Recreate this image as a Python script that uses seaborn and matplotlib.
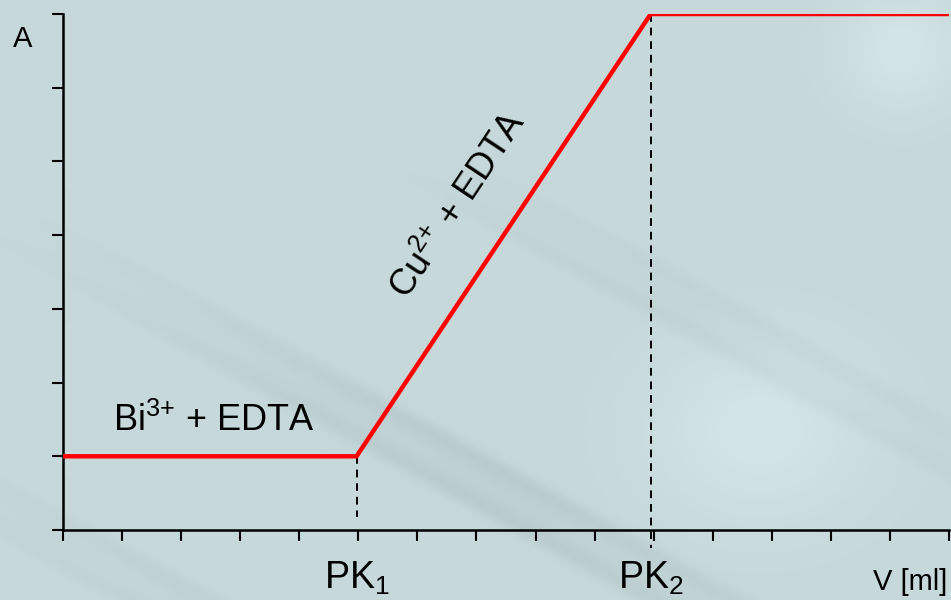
import numpy as np
import pandas as pd
import matplotlib
matplotlib.use("Agg")
import matplotlib.pyplot as plt
import seaborn as sns

# Titration curve: absorbance vs. titrant volume
volume = [0.0, 4.97, 9.95, 15.0]
absorbance = [1.0, 1.0, 7.0, 7.0]
endpoints = [4.97, 9.95]
endpoint_labels = [r"PK$_1$", r"PK$_2$"]
segment_labels = [r"Bi$^{3{+}}$ + EDTA", r"Cu$^{2{+}}$ + EDTA"]
x_ticks = list(range(0, 16))
y_ticks = list(range(0, 8))

sns.set_theme(style="ticks")
plt.rcParams["font.family"] = ["Liberation Sans", "DejaVu Sans"]
plt.rcParams["mathtext.fontset"] = "custom"
plt.rcParams["mathtext.rm"] = "Liberation Sans"
plt.rcParams["mathtext.it"] = "Liberation Sans"
plt.rcParams["mathtext.default"] = "rm"

W, H = 951, 600
fig = plt.figure(figsize=(W / 100, H / 100), dpi=100)

# soft textured backdrop
yy, xx = np.mgrid[0:H, 0:W].astype(float)
base = np.array([198, 216, 218], dtype=float) / 255.0
u = (xx * 0.55 - yy) / 60.0
bands = np.exp(-((np.sin(u * 1.3) - 0.9) ** 2) / 0.02)
mask = np.clip((yy - 150) / 250, 0, 1) * np.clip(1 - np.abs(xx - 500) / 650, 0, 1)
shade = -0.05 * bands * mask
glow = 0.05 * np.exp(-(((xx - 760) / 110) ** 2 + ((yy - 430) / 90) ** 2))
glow += 0.05 * np.exp(-(((xx - 900) / 60) ** 2 + ((yy - 50) / 60) ** 2))
img = np.clip(base[None, None, :] + (shade + glow)[..., None], 0, 1)
bg = fig.add_axes([0, 0, 1, 1])
bg.imshow(img, aspect="auto", interpolation="bilinear")
bg.set_axis_off()

ax = fig.add_axes([63 / W, 1 - 530 / H, (949 - 63) / W, (530 - 14) / H])
ax.patch.set_alpha(0)

df = pd.DataFrame({"V": volume, "A": absorbance})
sns.lineplot(data=df, x="V", y="A", ax=ax, color="#ff0000", linewidth=3.2,
             solid_joinstyle="miter", zorder=4)

ax.set_xlim(0, 15)
ax.set_ylim(0, 7)
ax.set_xticks(x_ticks)
ax.set_yticks(y_ticks)
ax.set_xticklabels([])
ax.set_yticklabels([])
ax.set_xlabel("")
ax.set_ylabel("")
ax.tick_params(axis="both", direction="out", length=8, width=1.5, color="black")
for side in ("top", "right"):
    ax.spines[side].set_visible(False)
for side in ("left", "bottom"):
    ax.spines[side].set_color("black")
    ax.spines[side].set_linewidth(1.8)

# end-point markers
ax.plot([endpoints[0], endpoints[0]], [absorbance[1], 0.18], color="black",
        linestyle=(0, (4, 3)), linewidth=1.4, zorder=3)
ax.plot([endpoints[1], endpoints[1]], [absorbance[2], -0.25], color="black",
        linestyle=(0, (4, 3)), linewidth=1.4, zorder=3, clip_on=False)

for xv, lab in zip(endpoints, endpoint_labels):
    ax.annotate(lab, xy=(xv, 0), xycoords="data", xytext=(0, -42.5),
                textcoords="offset points", ha="center", va="baseline",
                fontsize=27, color="black", annotation_clip=False)

ax.text(0.85, 1.34, segment_labels[0], fontsize=26, color="black",
        ha="left", va="baseline")

# rotate the second label along the rising segment
p0 = ax.transData.transform((volume[1], absorbance[1]))
p1 = ax.transData.transform((volume[2], absorbance[2]))
angle = np.degrees(np.arctan2(p1[1] - p0[1], p1[0] - p0[0]))
ax.text(6.7, 4.4, segment_labels[1], fontsize=26, color="black",
        rotation=angle, rotation_mode="anchor", ha="center", va="center")

fig.text(13 / W, 1 - 47 / H, "A", fontsize=21, color="black", ha="left", va="baseline")
fig.text(947 / W, 1 - 590 / H, "V [ml]", fontsize=21, color="black", ha="right", va="baseline")

fig.savefig("out.png", dpi=100)
